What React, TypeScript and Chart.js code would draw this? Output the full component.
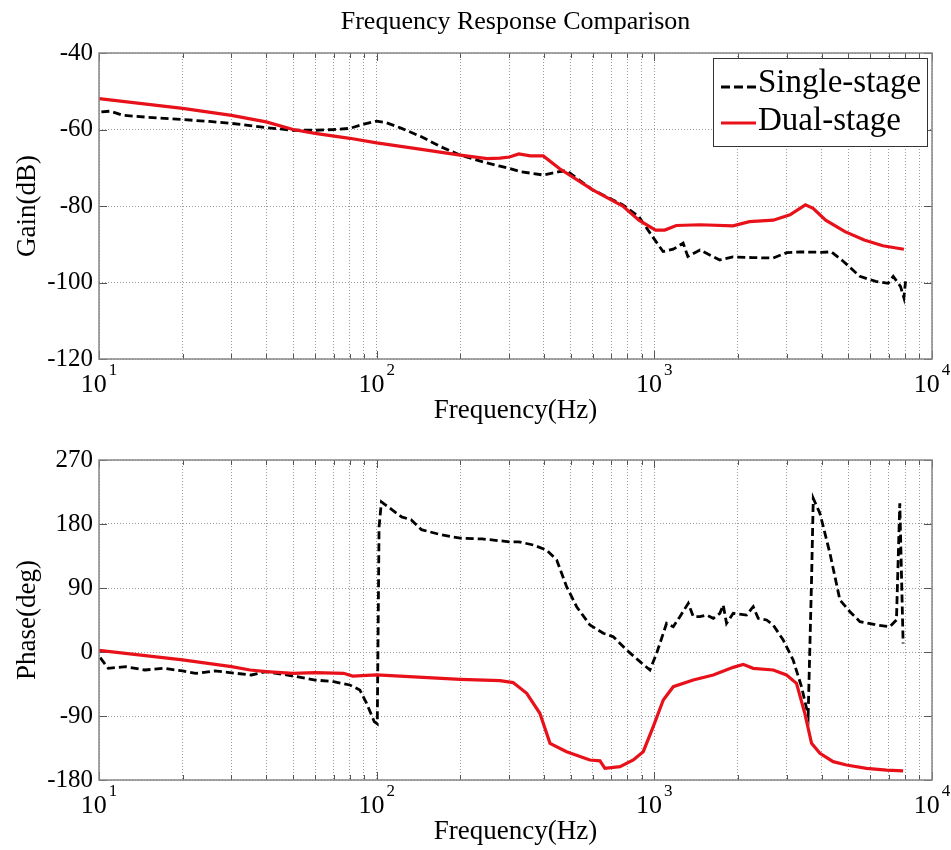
import React, { useEffect, useRef } from "react";
import { Chart, registerables } from "chart.js";

Chart.register(...registerables);

const FONT = "'Liberation Serif', 'Times New Roman', serif";
const RED = "#e8111a";
const GRID = "#9a9a9a";

// Gain (dB) — single-stage controller
const gainSingleFreq = [10.2, 11, 12.2, 15, 20, 25, 30, 35, 40, 50, 60, 70, 80, 90, 100, 108, 123, 145, 170, 200, 240, 278, 301, 328, 398, 455, 484, 600, 770, 880, 985, 1075, 1170, 1270, 1320, 1460, 1720, 1920, 2260, 2680, 3000, 3350, 3970, 4340, 4800, 5500, 6270, 6950, 7250, 7700, 7920, 8030];
const gainSingle = [-55.4, -55.2, -56.3, -56.8, -57.4, -57.9, -58.4, -59.0, -59.5, -60.2, -60.2, -60.0, -59.7, -58.6, -57.8, -58.2, -59.7, -61.9, -64.5, -66.7, -68.4, -69.6, -70.2, -71.0, -71.9, -71.0, -70.8, -75.8, -79.7, -82.8, -88.0, -91.9, -91.3, -89.7, -93.2, -91.5, -94.1, -93.3, -93.5, -93.6, -92.2, -92.0, -92.1, -92.0, -94.5, -98.4, -99.7, -100.2, -98.4, -101.0, -104.0, -99.7];

// Gain (dB) — dual-stage controller
const gainDualFreq = [10, 20, 30, 40, 50, 60, 80, 100, 145, 200, 250, 278, 301, 325, 358, 398, 455, 600, 770, 880, 1010, 1090, 1200, 1460, 1920, 2200, 2680, 3080, 3500, 3730, 4140, 4860, 5700, 6650, 7920];
const gainDual = [-51.9, -54.5, -56.3, -58.0, -60.0, -61.0, -62.3, -63.5, -65.2, -66.7, -67.6, -67.5, -67.2, -66.4, -66.9, -66.9, -70.2, -75.8, -80.0, -83.7, -86.3, -86.3, -85.1, -84.9, -85.2, -84.1, -83.7, -82.3, -79.7, -80.6, -83.7, -86.7, -88.9, -90.4, -91.3];

// Phase (deg) — single-stage controller
const phaseSingleFreq = [10.1, 10.8, 12.5, 14.6, 17.1, 20, 22.3, 26.1, 31.2, 35.4, 40, 50, 60, 70, 80, 87, 92, 98, 100.5, 102, 104, 110, 123, 133, 145, 170, 200, 240, 300, 325, 366, 409, 445, 483, 525, 586, 655, 711, 795, 888, 964, 1019, 1107, 1170, 1236, 1325, 1381, 1459, 1542, 1630, 1722, 1770, 1820, 1923, 2148, 2270, 2366, 2536, 2680, 2911, 3162, 3388, 3581, 3683, 3736, 3948, 4290, 4660, 5063, 5500, 6310, 7047, 7447, 7656, 7870];
const phaseSingle = [-8, -23, -20.6, -25.3, -23, -26.6, -30, -26.6, -30, -32.3, -27.6, -33.8, -39.4, -41.7, -46.4, -53.4, -72.2, -98, -101, 176, 211, 204, 190, 186, 172, 165, 160, 159, 155, 155, 150.5, 143.4, 129.4, 91.9, 63.7, 38, 26.3, 21.6, 2.8, -13.6, -25.3, -1.9, 40.3, 35.6, 49.7, 68.5, 49.7, 49.7, 52, 47.3, 54.4, 66.1, 40.3, 54.4, 52, 63.7, 47.3, 45, 38, 16.9, -11.2, -48.8, -88.6, 101.3, 216, 195, 138.8, 73.1, 56.7, 42.7, 38, 35.6, 45, 209, 12];

// Phase (deg) — dual-stage controller
const phaseDualFreq = [10, 20, 30, 35, 40, 50, 60, 76, 82, 100, 200, 278, 310, 347, 387, 421, 483, 586, 637, 664, 752, 840, 912, 991, 1077, 1170, 1381, 1630, 1923, 2089, 2270, 2680, 2992, 3251, 3483, 3683, 3948, 4406, 4920, 5808, 6855, 7870];
const phaseDual = [2.3, -11.2, -20.6, -25.3, -27.6, -30, -29, -30, -33.8, -32.3, -38.4, -40.3, -43, -58.1, -86.2, -128.4, -140.2, -151.9, -153, -163.6, -161.3, -151.9, -140.2, -105, -67.5, -48.8, -39.4, -32.3, -21.6, -17.4, -23, -25.3, -32.3, -44, -86.2, -128.4, -142.5, -154.2, -158.9, -163.6, -166, -167.1];

// Log-axis grid positions (major decades plus minor 2..9 lines)
const freqGrid = [10, 20, 30, 40, 50, 60, 70, 80, 90, 100, 200, 300, 400, 500, 600, 700, 800, 900, 1000, 2000, 3000, 4000, 5000, 6000, 7000, 8000, 9000, 10000];
const decadeTicks = [10, 100, 1000, 10000];

const gainTicks = { min: -120, max: -40, step: 20 };
const phaseTicks = { min: -180, max: 270, step: 90 };

const zip = (xs: number[], ys: number[]) => xs.map((x, i) => ({ x, y: ys[i] }));

const framePlugin = {
  id: "matlabFrame",
  beforeDatasetsDraw(chart: any) {
    const { ctx, chartArea: a, scales } = chart;
    ctx.save();
    ctx.strokeStyle = "#555";
    ctx.lineWidth = 1;
    ctx.beginPath();
    for (const t of scales.x.ticks) {
      const px = Math.round(scales.x.getPixelForValue(t.value)) + 0.5;
      const len = decadeTicks.includes(t.value) ? 8 : 5;
      ctx.moveTo(px, a.bottom);
      ctx.lineTo(px, a.bottom - len);
      ctx.moveTo(px, a.top);
      ctx.lineTo(px, a.top + len);
    }
    for (const t of scales.y.ticks) {
      const py = Math.round(scales.y.getPixelForValue(t.value)) + 0.5;
      ctx.moveTo(a.left, py);
      ctx.lineTo(a.left + 8, py);
      ctx.moveTo(a.right, py);
      ctx.lineTo(a.right - 8, py);
    }
    ctx.stroke();
    ctx.restore();
  },
  afterDraw(chart: any, _args: any, opts: any) {
    const { ctx, chartArea: a, scales } = chart;
    ctx.save();

    // axes box
    ctx.strokeStyle = "#868686";
    ctx.lineWidth = 1.5;
    ctx.strokeRect(a.left, a.top, a.right - a.left, a.bottom - a.top);

    // decade labels as 10 with superscript exponent
    ctx.fillStyle = "#000";
    ctx.textBaseline = "middle";
    ctx.textAlign = "left";
    for (const v of decadeTicks) {
      const px = scales.x.getPixelForValue(v);
      const exp = String(Math.round(Math.log10(v)));
      ctx.font = `26px ${FONT}`;
      const bw = ctx.measureText("10").width;
      ctx.font = `17px ${FONT}`;
      const ew = ctx.measureText(exp).width;
      const left = px - (bw + 2 + ew) / 2;
      ctx.font = `26px ${FONT}`;
      ctx.fillText("10", left, a.bottom + 26);
      ctx.font = `17px ${FONT}`;
      ctx.fillText(exp, left + bw + 2, a.bottom + 12);
    }

    // x-axis title
    ctx.textAlign = "center";
    ctx.font = `27px ${FONT}`;
    ctx.fillText(opts.xTitle, (a.left + a.right) / 2, a.bottom + 52);

    // y-axis title
    ctx.save();
    ctx.translate(28, (a.top + a.bottom) / 2);
    ctx.rotate(-Math.PI / 2);
    ctx.font = `27px ${FONT}`;
    ctx.fillText(opts.yTitle, 0, 0);
    ctx.restore();

    // figure title
    if (opts.title) {
      ctx.font = `26px ${FONT}`;
      ctx.fillText(opts.title, (a.left + a.right) / 2, 22);
    }

    // legend box in the upper-right corner
    if (opts.legend) {
      const bx = a.right - 219;
      const by = a.top + 5;
      const bw = 214;
      const bh = 88;
      ctx.fillStyle = "#fff";
      ctx.fillRect(bx, by, bw, bh);
      ctx.strokeStyle = "#333";
      ctx.lineWidth = 1;
      ctx.strokeRect(bx + 0.5, by + 0.5, bw, bh);
      const rows = [
        { y: by + 29, ty: by + 34 },
        { y: by + 65, ty: by + 72 },
      ];
      chart.data.datasets.forEach((ds: any, i: number) => {
        const r = rows[i];
        ctx.beginPath();
        ctx.strokeStyle = ds.borderColor;
        ctx.lineWidth = ds.borderWidth;
        ctx.setLineDash(ds.borderDash ? [9, 4] : []);
        ctx.moveTo(bx + 8, r.y);
        ctx.lineTo(bx + 43, r.y);
        ctx.stroke();
        ctx.setLineDash([]);
        ctx.fillStyle = "#000";
        ctx.textAlign = "left";
        ctx.textBaseline = "alphabetic";
        ctx.font = `33px ${FONT}`;
        ctx.fillText(ds.label, bx + 45, r.ty);
      });
    }
    ctx.restore();
  },
};

function makeConfig(p: {
  single: { x: number; y: number }[];
  dual: { x: number; y: number }[];
  range: { min: number; max: number; step: number };
  padTop: number;
  xAxisHeight: number;
  yTitle: string;
  title?: string;
  legend?: boolean;
}): any {
  return {
    type: "line",
    data: {
      datasets: [
        {
          label: "Single-stage",
          data: p.single,
          borderColor: "#000",
          borderWidth: 2.8,
          borderDash: [8, 4],
          pointRadius: 0,
          tension: 0,
          fill: false,
          order: 2,
        },
        {
          label: "Dual-stage",
          data: p.dual,
          borderColor: RED,
          borderWidth: 3.2,
          pointRadius: 0,
          tension: 0,
          fill: false,
          order: 1,
        },
      ],
    },
    options: {
      responsive: false,
      animation: false,
      devicePixelRatio: 1,
      parsing: false,
      layout: { padding: { top: p.padTop, right: 19, left: 0, bottom: 0 } },
      plugins: {
        legend: { display: false },
        title: { display: false },
        tooltip: { enabled: false },
        matlabFrame: {
          xTitle: "Frequency(Hz)",
          yTitle: p.yTitle,
          title: p.title,
          legend: p.legend,
        },
      },
      scales: {
        x: {
          type: "logarithmic",
          min: 10,
          max: 10000,
          afterBuildTicks: (s: any) => {
            s.ticks = freqGrid.map((v) => ({ value: v }));
          },
          ticks: { display: false },
          grid: { color: GRID, lineWidth: 1, drawTicks: false },
          border: { display: false, dash: [1, 2] },
          afterFit: (s: any) => {
            s.height = p.xAxisHeight;
          },
        },
        y: {
          min: p.range.min,
          max: p.range.max,
          ticks: {
            stepSize: p.range.step,
            color: "#000",
            padding: 6,
            font: { family: FONT, size: 25 },
            callback: (v: number) => String(v),
          },
          grid: { color: GRID, lineWidth: 1, drawTicks: false },
          border: { display: false, dash: [1, 2] },
          afterFit: (s: any) => {
            s.width = 99;
          },
        },
      },
    },
    plugins: [framePlugin],
  };
}

export default function App() {
  const gainRef = useRef<HTMLCanvasElement>(null);
  const phaseRef = useRef<HTMLCanvasElement>(null);

  useEffect(() => {
    const gain = new Chart(
      gainRef.current!,
      makeConfig({
        single: zip(gainSingleFreq, gainSingle),
        dual: zip(gainDualFreq, gainDual),
        range: gainTicks,
        padTop: 53,
        xAxisHeight: 71,
        yTitle: "Gain(dB)",
        title: "Frequency Response Comparison",
        legend: true,
      })
    );
    const phase = new Chart(
      phaseRef.current!,
      makeConfig({
        single: zip(phaseSingleFreq, phaseSingle),
        dual: zip(phaseDualFreq, phaseDual),
        range: phaseTicks,
        padTop: 30,
        xAxisHeight: 70,
        yTitle: "Phase(deg)",
      })
    );
    return () => {
      gain.destroy();
      phase.destroy();
    };
  }, []);

  return (
    <div style={{ position: "absolute", left: 0, top: 0, width: 951, height: 850, background: "#fff" }}>
      <canvas ref={gainRef} width={951} height={430} style={{ position: "absolute", left: 0, top: 0, display: "block" }} />
      <canvas ref={phaseRef} width={951} height={420} style={{ position: "absolute", left: 0, top: 430, display: "block" }} />
    </div>
  );
}
